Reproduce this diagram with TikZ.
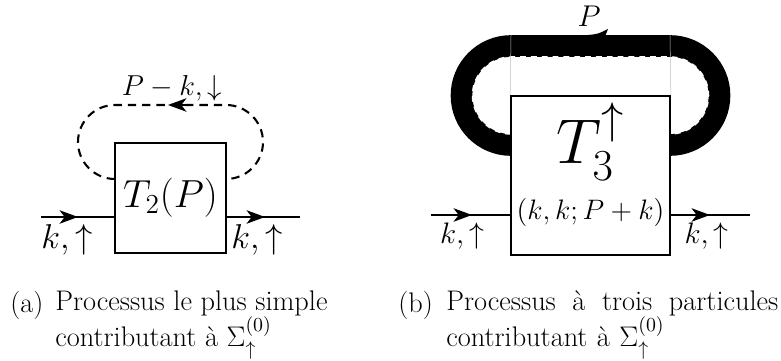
\documentclass[tikz,border=0pt]{standalone}
\usepackage{fix-cm}
\usepackage{amsmath, amssymb}
\usepackage{tikz}
\usetikzlibrary{arrows.meta, positioning, calc}

\tikzset{
  vertexbox/.style={draw, rectangle, line width=1pt, fill=white, inner sep=0pt},
  fermion/.style={line width=1.4pt},
  flowtip/.style={-{Stealth[length=11pt, width=8pt, inset=3pt]}, line width=1.4pt},
  dashedloop/.style={dash pattern=on 5pt off 3.6pt, line width=1.25pt},
  captionfont/.style={font=\fontsize{17}{21.6}\selectfont},
  caption/.style={captionfont, inner sep=0pt, anchor=north west, align=left},
  tag/.style={captionfont, inner sep=0pt, anchor=north west},
}

\begin{document}
\begin{tikzpicture}[x=0.6pt, y=0.6pt]
        \useasboundingbox (0,0) rectangle (781,361);

        % left diagram
        \node (simple) at (170.5,163) [vertexbox, minimum width=66.6pt, minimum height=66pt] {};
        \node (simpleName) at (170.5,163) {\fontsize{23.5}{28}\selectfont $T_2(P)$};
        \coordinate (simpleIn) at (41,144);
        \coordinate (simpleOut) at (300,144);
        \coordinate (simpleA) at (115,144);
        \coordinate (simpleB) at (226,144);
        \coordinate (simpleL) at (115,182);
        \coordinate (simpleTop) at (188,256);
        \draw[fermion] (simpleIn) -- (simpleA);
        \draw[fermion] (simpleB) -- (simpleOut);
        \draw[flowtip] ($(simpleIn)+(19,0)$) -- ($(simpleIn)+(37,0)$);
        \draw[flowtip] ($(simpleB)+(19,0)$) -- ($(simpleB)+(39,0)$);
        \draw[dashedloop] (simpleL) arc[start angle=270, end angle=90, radius=37] -- ++(111,0)
            arc[start angle=90, end angle=-90, radius=37];
        \draw[flowtip] (simpleTop) -- ++(-20,0);

        \node (labelLoop) at (172,273) {\fontsize{17.3}{21}\selectfont $P-k,\downarrow$};
        \node (labelIn) at (67,121) {\fontsize{20.7}{25}\selectfont $k,\uparrow$};
        \node (labelOut) at (257,121) {\fontsize{20.7}{25}\selectfont $k,\uparrow$};

        % right diagram
        \coordinate (bigL) at (511,216);
        \coordinate (bigTL) at (511,315);
        \coordinate (bigTR) at (670,315);
        \draw[line width=13pt] (bigL) arc[start angle=270, end angle=90, radius=49.5] -- (bigTR)
            arc[start angle=90, end angle=-90, radius=49.5];
        \draw[white, dash pattern=on 3.5pt off 3pt, line width=0.9pt] (511,227) arc[start angle=270, end angle=90, radius=38.5] -- (670,304)
            arc[start angle=90, end angle=-90, radius=38.5];
        \fill (588,326) .. controls (598,327) .. (608,332) -- (604,322) -- cycle;
        \node (triple) at (590.5,185.5) [vertexbox, minimum width=95.4pt, minimum height=95.4pt] {};
        \draw[gray!50, line width=0.3pt] ($(bigTL)+(0,11)$) -- (triple.north west);
        \draw[gray!50, line width=0.3pt] ($(bigTR)+(0,11)$) -- (triple.north east);
        \node (tripleName) at (556,197) [anchor=base west, inner sep=0pt] {\fontsize{38}{44}\selectfont $T_3^{\uparrow}$};
        \node (tripleArgs) at (590.5,149) {\fontsize{16.9}{20}\selectfont $(k,k;P+k)$};
        \coordinate (tripleIn) at (431,146);
        \coordinate (tripleOut) at (750,146);
        \coordinate (tripleA) at (511,146);
        \coordinate (tripleB) at (670,146);
        \draw[fermion] (tripleIn) -- (tripleA);
        \draw[fermion] (tripleB) -- (tripleOut);
        \draw[flowtip] ($(tripleIn)+(19,0)$) -- ($(tripleIn)+(41,0)$);
        \draw[flowtip] ($(tripleB)+(18,0)$) -- ($(tripleB)+(40,0)$);

        \node (labelP) at (589,344.5) {\fontsize{18}{22}\selectfont $P$};
        \node (labelInB) at (462,125) {\fontsize{17.8}{21}\selectfont $k,\uparrow$};
        \node (labelOutB) at (706.5,125) {\fontsize{17.8}{21}\selectfont $k,\uparrow$};

        % captions
        \node (tagA) [tag] at (10,70.5) {(a)};
        \node (captionA) [caption] at (55,70.5) {Processus le plus simple\\contributant à $\Sigma_{\uparrow}^{(0)}$};
        \node (tagB) [tag] at (398,70.5) {(b)};
        \node (captionB) [caption, text width=199.2pt] at (446,70.5) {Processus\hfill à\hfill trois\hfill particules\\contributant à $\Sigma_{\uparrow}^{(0)}$};
    \end{tikzpicture}
\end{document}
